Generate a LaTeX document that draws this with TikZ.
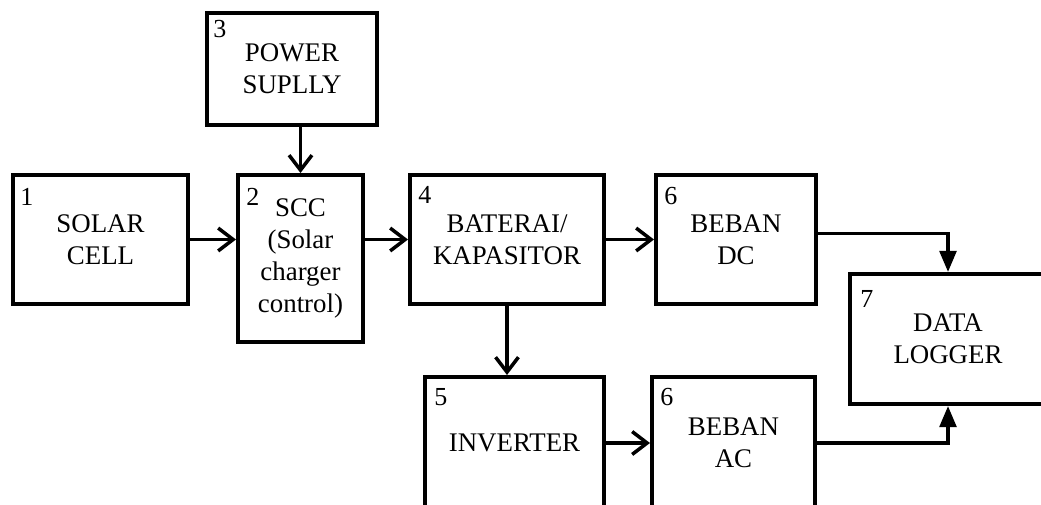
\documentclass[tikz,border=0pt]{standalone}
\usepackage{fontspec}
\setmainfont{Liberation Serif}
\usetikzlibrary{arrows.meta}
\tikzset{
  blk/.style={draw,line width=2.3pt,align=center,font=\fontsize{15.3}{18.3}\selectfont,inner sep=0pt},
  num/.style={anchor=north west,inner sep=0pt,font=\fontsize{14.8}{17}\selectfont},
  arr/.style={line width=2pt,-{Straight Barb[length=8.5pt,width=13pt,line width=2pt]}},
  darr/.style={line width=2pt,-{Triangle[length=12pt,width=9.5pt]}},
  every picture/.style={x=0.02cm,y=-0.02cm}
}
\begin{document}
\begin{tikzpicture}
      \clip (0,0) rectangle (1041,504); \fill[white] (0,0) rectangle (1041,504);
      \node[blk,minimum width=3.4cm,minimum height=2.24cm] (pwr) at (292,69) {POWER\\SUPLLY};
      \node[blk,minimum width=3.5cm,minimum height=2.58cm] (sol) at (100.5,239.5) {SOLAR\\CELL};
      \node[blk,minimum width=2.5cm,minimum height=3.34cm] (scc) at (300.5,258.5) {SCC\\(Solar\\charger\\control)};
      \node[blk,minimum width=3.88cm,minimum height=2.58cm] (bat) at (507,239.5) {BATERAI/\\KAPASITOR};
      \node[blk,minimum width=3.2cm,minimum height=2.58cm] (bdc) at (736,239.5) {BEBAN\\DC};
      \node[blk,minimum width=3.92cm,minimum height=2.6cm] (log) at (948,339) {DATA\\LOGGER};
      \node[blk,minimum width=3.58cm,minimum height=2.64cm] (inv) at (514.5,443) {INVERTER};
      \node[blk,minimum width=3.26cm,minimum height=2.64cm] (bac) at (733.5,443) {BEBAN\\AC};
      % block numbers
      \node[num] at ([shift={(0.18cm,-0.3cm)}]sol.north west) {1}; \node[num] at ([shift={(0.2cm,-0.3cm)}]scc.north west) {2};
      \node[num] at ([shift={(0.16cm,-0.18cm)}]pwr.north west) {3}; \node[num] at ([shift={(0.2cm,-0.26cm)}]bat.north west) {4};
      \node[num] at ([shift={(0.22cm,-0.26cm)}]inv.north west) {5}; \node[num] at ([shift={(0.2cm,-0.28cm)}]bdc.north west) {6};
      \node[num] at ([shift={(0.2cm,-0.26cm)}]bac.north west) {6}; \node[num] at ([shift={(0.24cm,-0.36cm)}]log.north west) {7};
      % connections
      \draw[arr] (pwr.south -| scc) -- (scc.north); \draw[arr] (sol.east) -- (sol.east -| scc.west);
      \draw[arr] (bat.west -| scc.east) -- (bat.west); \draw[arr] (bat.east) -- (bdc.west);
      \draw[arr] (bat.south) -- (bat.south |- inv.north); \draw[arr] (inv.east) -- (bac.west);
      \draw[darr] ([yshift=0.12cm]bdc.east) -| (log.north); \draw[darr] (bac.east) -| (log.south);
\end{tikzpicture}
\end{document}
